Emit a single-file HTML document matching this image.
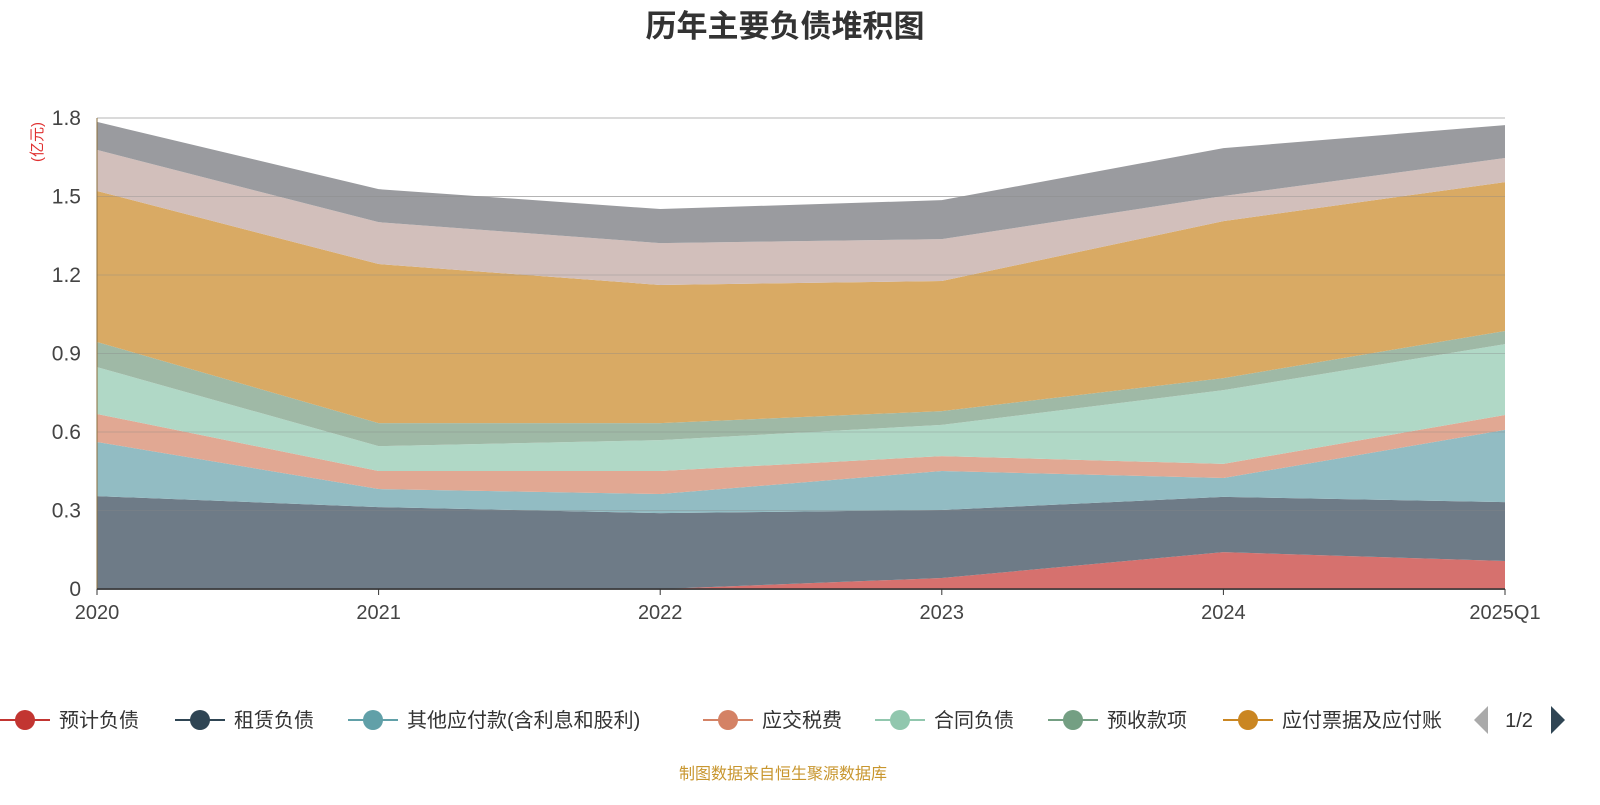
<!DOCTYPE html>
<html><head><meta charset="utf-8"><style>
body{margin:0;background:#fff;width:1600px;height:800px;overflow:hidden;font-family:"Liberation Sans","Noto Sans CJK SC",sans-serif}
</style></head><body>
<svg id="c" width="1600" height="800" xmlns="http://www.w3.org/2000/svg"></svg>
<script>
const categories=["2020","2021","2022","2023","2024","2025Q1"];
const seriesNames=["预计负债","租赁负债","其他应付款(含利息和股利)","应交税费","合同负债","预收款项","应付票据及应付账款","应付职工薪酬","其他"];
const s0=[0,0,0,0.042,0.141,0.107];
const s1=[0.355,0.313,0.290,0.260,0.211,0.225];
const s2=[0.207,0.069,0.073,0.149,0.072,0.276];
const s3=[0.107,0.069,0.088,0.057,0.054,0.057];
const s4=[0.179,0.095,0.118,0.119,0.282,0.271];
const s5=[0.096,0.088,0.065,0.053,0.046,0.050];
const s6=[0.577,0.608,0.528,0.497,0.600,0.569];
const s7=[0.157,0.160,0.160,0.160,0.096,0.092];
const s8=[0.107,0.126,0.130,0.149,0.183,0.126];
const yTicks=[0,0.3,0.6,0.9,1.2,1.5,1.8];
const yTickLabels=["0","0.3","0.6","0.9","1.2","1.5","1.8"];
const series=[s0,s1,s2,s3,s4,s5,s6,s7,s8];
const fills=["#d6716e","#6e7b87","#92bcc3","#e1a893","#b0d8c6","#9fb9a6","#d9aa64","#d2bfbb","#9a9b9f"];
const legendColors=["#c23531","#2f4554","#61a0a8","#d48265","#91c7ae","#749f83","#ca8622"];
const NS="http://www.w3.org/2000/svg";
const svg=document.getElementById('c');
const X0=97,X1=1505,Y0=589,Y1=118;
const xs=i=>X0+(X1-X0)*i/(categories.length-1);
const ys=v=>Y0-(Y0-Y1)*v/1.8;
function el(t,a,p){const e=document.createElementNS(NS,t);for(const k in a)e.setAttribute(k,a[k]);(p||svg).appendChild(e);return e;}
let t=el('text',{x:785,y:37,'text-anchor':'middle','font-size':31,'font-weight':'bold',fill:'#333'});t.textContent="历年主要负债堆积图";


yTicks.forEach((v,i)=>{
 const g=el('line',{x1:X0,x2:X1,y1:ys(v),y2:ys(v),stroke:i==0?'#333':'#ccc','stroke-width':i==0?1.5:1});
 
 
 const l=el('text',{x:X0-16,y:ys(v)+7,'text-anchor':'end','font-size':21,fill:'#444'});l.textContent=yTickLabels[i];
 
 
});
let yt=el('text',{x:0,y:0,transform:'translate(42,142) rotate(-90)','text-anchor':'middle','font-size':15,fill:'#e03030'});yt.textContent="(亿元)";


let cum=categories.map(()=>0);
series.forEach((s,k)=>{
 const lower=cum.slice();cum=cum.map((c,i)=>c+s[i]);
 let d=cum.map((v,i)=>(i?'L':'M')+xs(i)+','+ys(v)).join('');
 for(let i=categories.length-1;i>=0;i--)d+='L'+xs(i)+','+ys(lower[i]);
 const p=el('path',{d:d+'Z',fill:fills[k],stroke:'none'});
 
 
});
yTicks.forEach((v,i)=>{ if(i>0) el('line',{x1:X0,x2:X1,y1:ys(v),y2:ys(v),stroke:'#888','stroke-opacity':0.35,'stroke-width':1}); });
el('line',{x1:X0,x2:X0,y1:Y1,y2:Y0,stroke:'#8a6d3b','stroke-width':1});
el('line',{x1:X0,x2:X1,y1:Y0,y2:Y0,stroke:'#333','stroke-width':1.5});
categories.forEach((c,i)=>{
 el('line',{x1:xs(i),x2:xs(i),y1:Y0,y2:Y0+6,stroke:'#333'});
 const l=el('text',{x:xs(i),y:619,'text-anchor':'middle','font-size':20,fill:'#444'});l.textContent=c;
 
 
});
const lx=[0,175,348,703,875,1048,1223];
lx.forEach((x,k)=>{
 const g=el('g',{});
 
 
 el('line',{x1:x,x2:x+50,y1:720,y2:720,stroke:legendColors[k],'stroke-width':2},g);
 el('circle',{cx:x+25,cy:720,r:10,fill:legendColors[k]},g);
 const l=el('text',{x:x+59,y:727,'font-size':20,fill:'#333'},g);l.textContent=seriesNames[k].replace('应付票据及应付账款','应付票据及应付账');
});
el('rect',{x:1470,y:700,width:130,height:40,fill:'#fff'});
el('polygon',{points:'1488,706 1488,734 1474,720',fill:'#aaa'});
let pg=el('text',{x:1519,y:727,'text-anchor':'middle','font-size':20,fill:'#333'});pg.textContent="1/2";
el('polygon',{points:'1551,706 1551,734 1565,720',fill:'#2f4554'});
let ft=el('text',{x:783,y:779,'text-anchor':'middle','font-size':16,fill:'#c8962e'});ft.textContent="制图数据来自恒生聚源数据库";


</script>
</body></html>
